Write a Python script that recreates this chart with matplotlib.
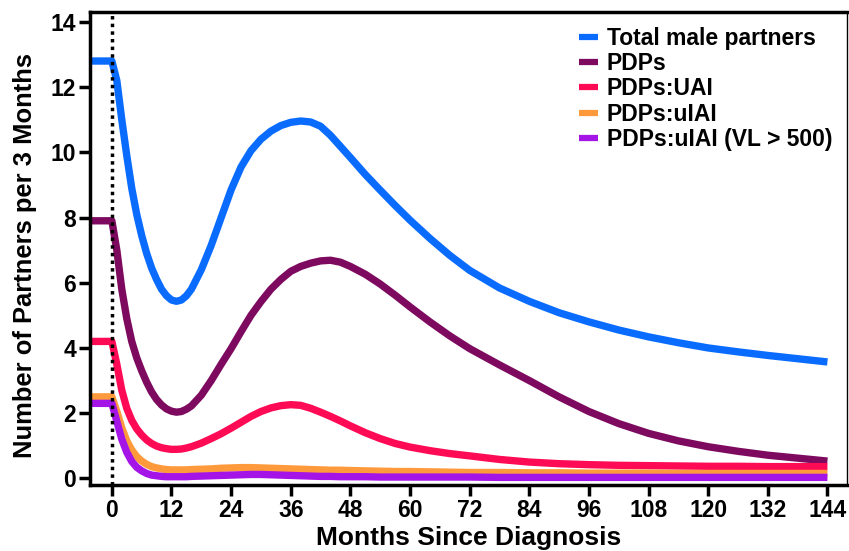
import matplotlib
matplotlib.use('Agg')
import matplotlib.pyplot as plt

# meses desde el diagnostico
months = [-4.4, 0, 1, 2, 3, 4, 5, 6, 7, 8, 9, 10, 11, 12, 13, 14, 15, 16, 18, 20,
          22, 24, 26, 28, 30, 32, 34, 36, 38, 40, 42, 44, 46, 48, 51, 54, 57, 60,
          64, 68, 72, 78, 84, 90, 96, 102, 108, 114, 120, 126, 132, 138, 144]

total_male = [12.8, 12.8, 12.2, 11.0, 9.9, 8.9, 8.1, 7.45, 6.9, 6.45, 6.1, 5.8,
              5.6, 5.47, 5.43, 5.47, 5.6, 5.8, 6.4, 7.15, 8.0, 8.85, 9.55, 10.05,
              10.4, 10.65, 10.82, 10.92, 10.96, 10.93, 10.8, 10.52, 10.18, 9.84,
              9.32, 8.84, 8.37, 7.92, 7.36, 6.84, 6.38, 5.84, 5.43, 5.08, 4.8, 4.55,
              4.34, 4.16, 4.0, 3.88, 3.77, 3.67, 3.57]
pdps = [7.9, 7.9, 7.0, 5.8, 4.9, 4.2, 3.7, 3.3, 2.95, 2.65, 2.42, 2.25, 2.13, 2.06,
        2.03, 2.05, 2.12, 2.22, 2.55, 3.0, 3.5, 3.98, 4.5, 5.0, 5.42, 5.8, 6.1,
        6.35, 6.5, 6.6, 6.67, 6.69, 6.63, 6.5, 6.26, 5.96, 5.62, 5.26, 4.8, 4.37,
        3.98, 3.48, 3.0, 2.5, 2.05, 1.68, 1.38, 1.15, 0.97, 0.83, 0.71, 0.62, 0.53]
pdps_uai = [4.2, 4.2, 3.5, 2.7, 2.15, 1.78, 1.52, 1.33, 1.18, 1.07, 0.99, 0.94,
            0.91, 0.89, 0.89, 0.9, 0.93, 0.97, 1.08, 1.22, 1.37, 1.54, 1.72, 1.9,
            2.05, 2.16, 2.23, 2.26, 2.24, 2.15, 2.03, 1.9, 1.76, 1.61, 1.4, 1.22,
            1.07, 0.96, 0.85, 0.76, 0.69, 0.58, 0.5, 0.45, 0.42, 0.4, 0.39, 0.38,
            0.37, 0.37, 0.36, 0.36, 0.36]
pdps_uiai = [2.5, 2.5, 2.05, 1.55, 1.15, 0.87, 0.67, 0.53, 0.43, 0.36, 0.32, 0.29,
             0.27, 0.26, 0.26, 0.26, 0.26, 0.27, 0.28, 0.29, 0.31, 0.32, 0.33,
             0.33, 0.32, 0.31, 0.3, 0.29, 0.28, 0.27, 0.26, 0.25, 0.25, 0.24, 0.23,
             0.22, 0.21, 0.21, 0.2, 0.19, 0.18, 0.18, 0.17, 0.17, 0.16, 0.16, 0.16,
             0.15, 0.15, 0.15, 0.15, 0.15, 0.15]
pdps_uiai_vl = [2.3, 2.3, 1.75, 1.2, 0.8, 0.52, 0.34, 0.23, 0.15, 0.1, 0.08, 0.06,
                0.05, 0.05, 0.05, 0.05, 0.05, 0.06, 0.07, 0.08, 0.09, 0.1, 0.11,
                0.12, 0.12, 0.11, 0.1, 0.09, 0.08, 0.07, 0.06, 0.06, 0.05, 0.05,
                0.05, 0.04, 0.04, 0.04, 0.04, 0.04, 0.04, 0.03, 0.03, 0.03, 0.03,
                0.03, 0.03, 0.03, 0.03, 0.03, 0.03, 0.03, 0.03]

etiquetas = ["Total male partners", "PDPs", "PDPs:UAI", "PDPs:uIAI",
             "PDPs:uIAI (VL > 500)"]
colores = ["#0a6cff", "#7d0a5f", "#ff0a55", "#ff9a3c", "#a514e6"]
xticks = [0, 12, 24, 36, 48, 60, 72, 84, 96, 108, 120, 132, 144]
yticks = [0, 2, 4, 6, 8, 10, 12, 14]

plt.rcParams['font.family'] = ['Liberation Sans', 'DejaVu Sans']

fig = plt.figure(figsize=(8.49, 5.51), dpi=100)
ax = fig.add_axes([0.106, 0.12, 0.892, 0.858])

series = [total_male, pdps, pdps_uai, pdps_uiai, pdps_uiai_vl]
for vals, lab, col in zip(series, etiquetas, colores):
    ax.plot(months, vals, color=col, lw=5.3, label=lab,
            solid_joinstyle='round', solid_capstyle='butt')

# linea del diagnostico
ax.axvline(0, color='black', lw=2.5, linestyle=(0, (1, 1.2)), zorder=5)

ax.set_xlim(-4.4, 148)
ax.set_ylim(-0.2, 14.3)
ax.set_xticks(xticks)
ax.set_yticks(yticks)
ax.set_xticklabels([str(t) for t in xticks], fontsize=16.5, fontweight='bold')
ax.set_yticklabels([str(t) for t in yticks], fontsize=16.5, fontweight='bold')
ax.tick_params(direction='out', length=8, width=2.5, pad=2)

for lado in ['left', 'bottom', 'top']:
    ax.spines[lado].set_linewidth(2.5)
ax.spines['right'].set_linewidth(1.0)

ax.set_xlabel('Months Since Diagnosis', fontsize=19, fontweight='bold',
              labelpad=3)
ax.set_ylabel('Number of Partners per 3 Months', fontsize=18.4,
              fontweight='bold')
ax.yaxis.set_label_coords(-0.07, 0.485)

leg = ax.legend(loc='upper left', bbox_to_anchor=(0.669, 0.972),
                bbox_transform=fig.transFigure, frameon=False,
                prop={'size': 16.5, 'weight': 'bold'}, handlelength=0.8,
                handletextpad=0.4, labelspacing=0.1, borderpad=0)
for h in leg.get_lines():
    h.set_linewidth(4.5)

plt.savefig('out.png', dpi=100)
plt.close()
